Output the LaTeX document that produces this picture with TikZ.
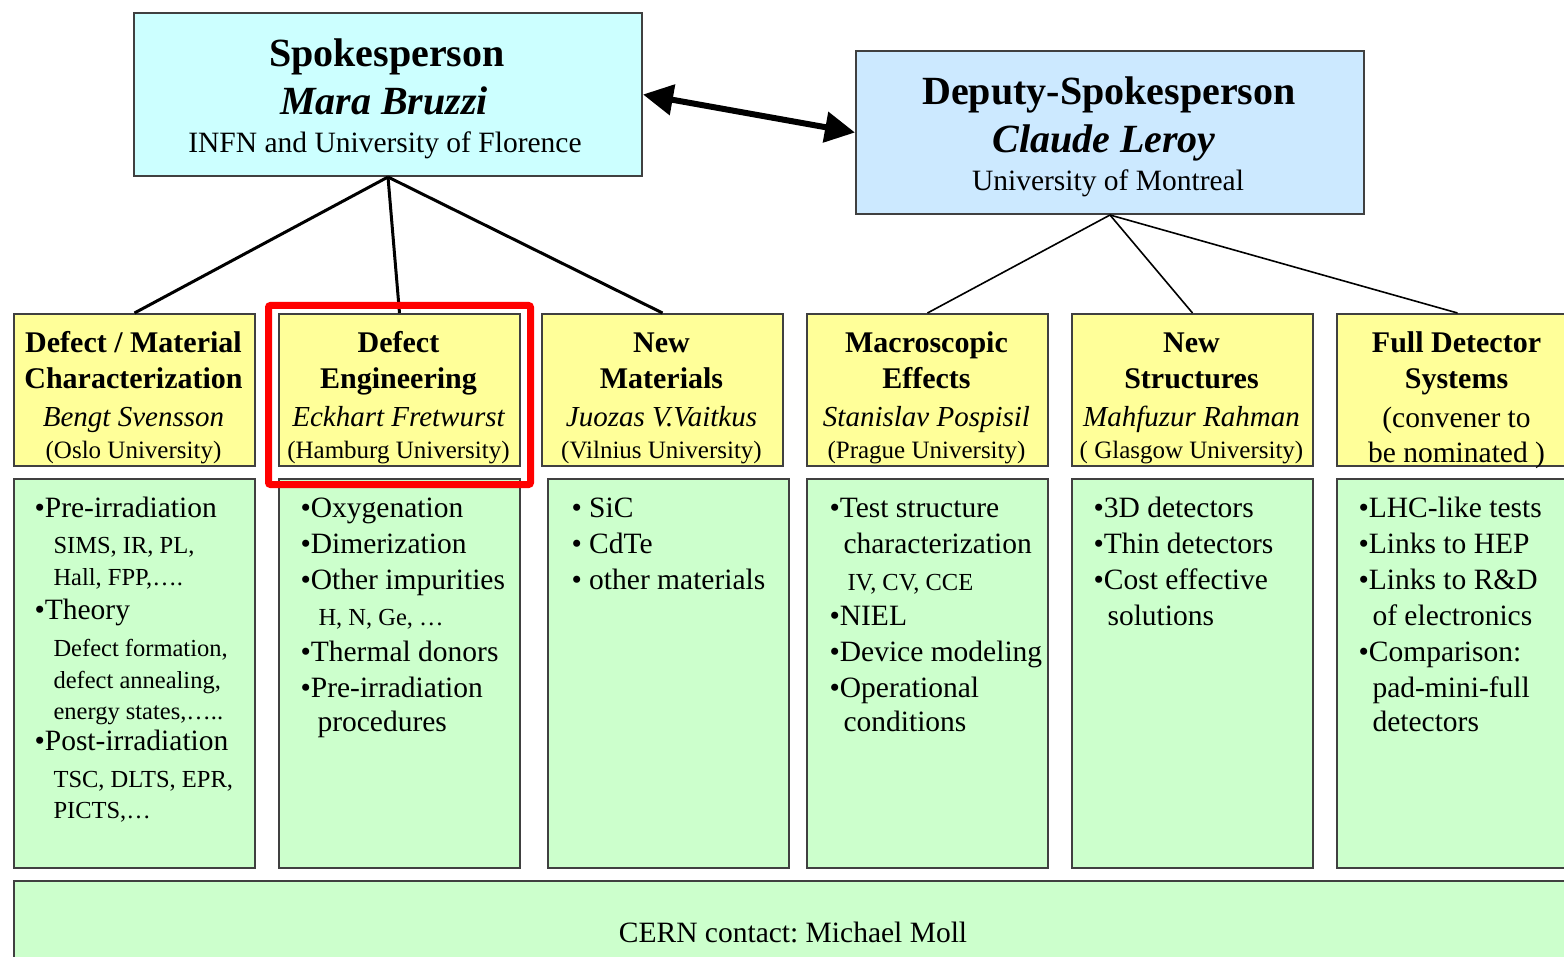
\documentclass[tikz,border=0pt]{standalone}
\usepackage{fontspec}
\setmainfont{Liberation Serif}
\usetikzlibrary{arrows.meta,positioning}

\definecolor{spkcyan}{RGB}{204,255,255}
\definecolor{depblue}{RGB}{204,233,255}
\definecolor{topicyellow}{RGB}{255,255,153}
\definecolor{taskgreen}{RGB}{204,255,204}
\definecolor{boxgray}{RGB}{64,64,64}
\newcommand{\subsz}{\fontsize{24.5}{30}\selectfont}
\frenchspacing

\begin{document}
\begin{tikzpicture}[x=1pt, y=-1pt,
    box/.style={draw=boxgray, line width=2pt, anchor=north west, inner sep=0pt},
    ybox/.style={box, fill=topicyellow, minimum width=241pt, minimum height=152pt},
    gbox/.style={box, fill=taskgreen, minimum width=241pt, minimum height=389pt},
    head/.style={anchor=base, font=\fontsize{40}{48}\selectfont\bfseries},
    chief/.style={anchor=base, font=\fontsize{40}{48}\selectfont\bfseries\itshape},
    ttl/.style={anchor=base, font=\fontsize{30}{36}\selectfont\bfseries},
    who/.style={anchor=base, font=\fontsize{29}{35}\selectfont\itshape},
    uni/.style={anchor=base, font=\fontsize{25}{30}\selectfont},
    txt/.style={anchor=base west, font=\fontsize{29.5}{36}\selectfont},
    link/.style={line width=3pt}]
  \useasboundingbox (0,0) rectangle (1564,957);
  \clip (0,0) rectangle (1564,957);

  % spokesperson and deputy
  \node[box, fill=spkcyan, minimum width=508pt, minimum height=163pt] (spk) at (133,12) {};
  \node[box, fill=depblue, minimum width=508pt, minimum height=163pt] (dep) at (855,50) {};
  \node[head] (spk-t) at (387,67) {Spokesperson};
  \node[chief] (spk-n) at (384,115) {Mara Bruzzi};
  \node[txt, anchor=base] (spk-u) at (385,153) {INFN and University of Florence};
  \node[head] (dep-t) at (1109,105) {Deputy-Spokesperson};
  \node[chief] (dep-n) at (1104,153) {Claude Leroy};
  \node[txt, anchor=base] (dep-u) at (1108,191) {University of Montreal};
  \draw[{Triangle[length=30pt,width=30pt]}-{Triangle[length=30pt,width=30pt]}, line width=6pt]
    (spk.east) -- (dep.west);

  % research lines and their tasks
  \foreach \x [count=\i] in {13,278,541,806,1071,1336}
    \node[ybox] (cat\i) at (\x,313) {};
  \foreach \x [count=\i] in {13,278,547,806,1071,1336}
    \node[gbox] (det\i) at (\x,478) {};
  \foreach \i in {1,2,3}
    \draw[link] (spk.south) -- (cat\i.north);
  \foreach \i in {4,5,6}
    \draw[line width=1.6pt] (dep.south) -- (cat\i.north);

  \foreach \cx/\ta/\tb/\nm/\un [count=\i] in {
      133.5/{Defect / Material}/Characterization/Bengt Svensson/(Oslo University),
      398.5/Defect/Engineering/Eckhart Fretwurst/(Hamburg University),
      661.5/New/Materials/Juozas V.Vaitkus/(Vilnius University),
      926.5/Macroscopic/Effects/Stanislav Pospisil/(Prague University),
      1191.5/New/Structures/Mahfuzur Rahman/( Glasgow University)}
  {
    \node[ttl] (cat\i-a) at (\cx,353) {\ta};
    \node[ttl] (cat\i-b) at (\cx,389) {\tb};
    \node[who] (cat\i-n) at (\cx,427) {\nm};
    \node[uni] (cat\i-u) at (\cx,458) {\un};
  }
  \node[ttl] (cat6-a) at (1456.5,353) {Full Detector};
  \node[ttl] (cat6-b) at (1456.5,389) {Systems};
  \node[txt, anchor=base] (cat6-n) at (1456.5,428) {(convener to};
  \node[txt, anchor=base] (cat6-u) at (1456.5,462) {be nominated )};

  % task lists
  \foreach \x/\y/\t [count=\i] in {
      31/517/{•Pre-irradiation}, 50/553/{\subsz SIMS, IR, PL,},
      50/585/{\subsz Hall, FPP,….}, 31/619/{•Theory},
      50/656/{\subsz Defect formation,}, 50/688/{\subsz defect annealing,},
      50/719/{\subsz energy states,…..}, 31/750/{•Post-irradiation},
      50/787/{\subsz TSC, DLTS, EPR,}, 50/818/{\subsz PICTS,…}}
    \node[txt] (det1-\i) at (\x,\y) {\t};
  \foreach \x/\y/\t [count=\i] in {
      297/517/{•Oxygenation}, 297/553/{•Dimerization},
      297/589/{•Other impurities}, 315/625/{\subsz H, N, Ge, …},
      297/661/{•Thermal donors}, 297/697/{•Pre-irradiation},
      314/731/{procedures}}
    \node[txt] (det2-\i) at (\x,\y) {\t};
  \foreach \x/\y/\t [count=\i] in {
      568/517/{• SiC}, 568/553/{• CdTe}, 568/589/{• other materials}}
    \node[txt] (det3-\i) at (\x,\y) {\t};
  \foreach \x/\y/\t [count=\i] in {
      826/517/{•Test structure}, 840/553/{characterization},
      844/590/{\subsz IV, CV, CCE}, 826/625/{•NIEL},
      826/661/{•Device modeling}, 826/697/{•Operational},
      840/731/{conditions}}
    \node[txt] (det4-\i) at (\x,\y) {\t};
  \foreach \x/\y/\t [count=\i] in {
      1090/517/{•3D detectors}, 1090/553/{•Thin detectors},
      1090/589/{•Cost effective}, 1104/625/{solutions}}
    \node[txt] (det5-\i) at (\x,\y) {\t};
  \foreach \x/\y/\t [count=\i] in {
      1355/517/{•LHC-like tests}, 1355/553/{•Links to HEP},
      1355/589/{•Links to R\&D}, 1369/625/{of electronics},
      1355/661/{•Comparison:}, 1369/697/{pad-mini-full},
      1369/731/{detectors}}
    \node[txt] (det6-\i) at (\x,\y) {\t};

  % highlight
  \draw[red, line width=7pt, rounded corners=2pt] (268.5,305.5) rectangle (530.5,484.5);

  % contact
  \node[box, fill=taskgreen, minimum width=1600pt, minimum height=120pt] (cern) at (13,880) {};
  \node[txt, anchor=base] (cern-t) at (793,942) {CERN contact: Michael Moll};
\end{tikzpicture}
\end{document}
